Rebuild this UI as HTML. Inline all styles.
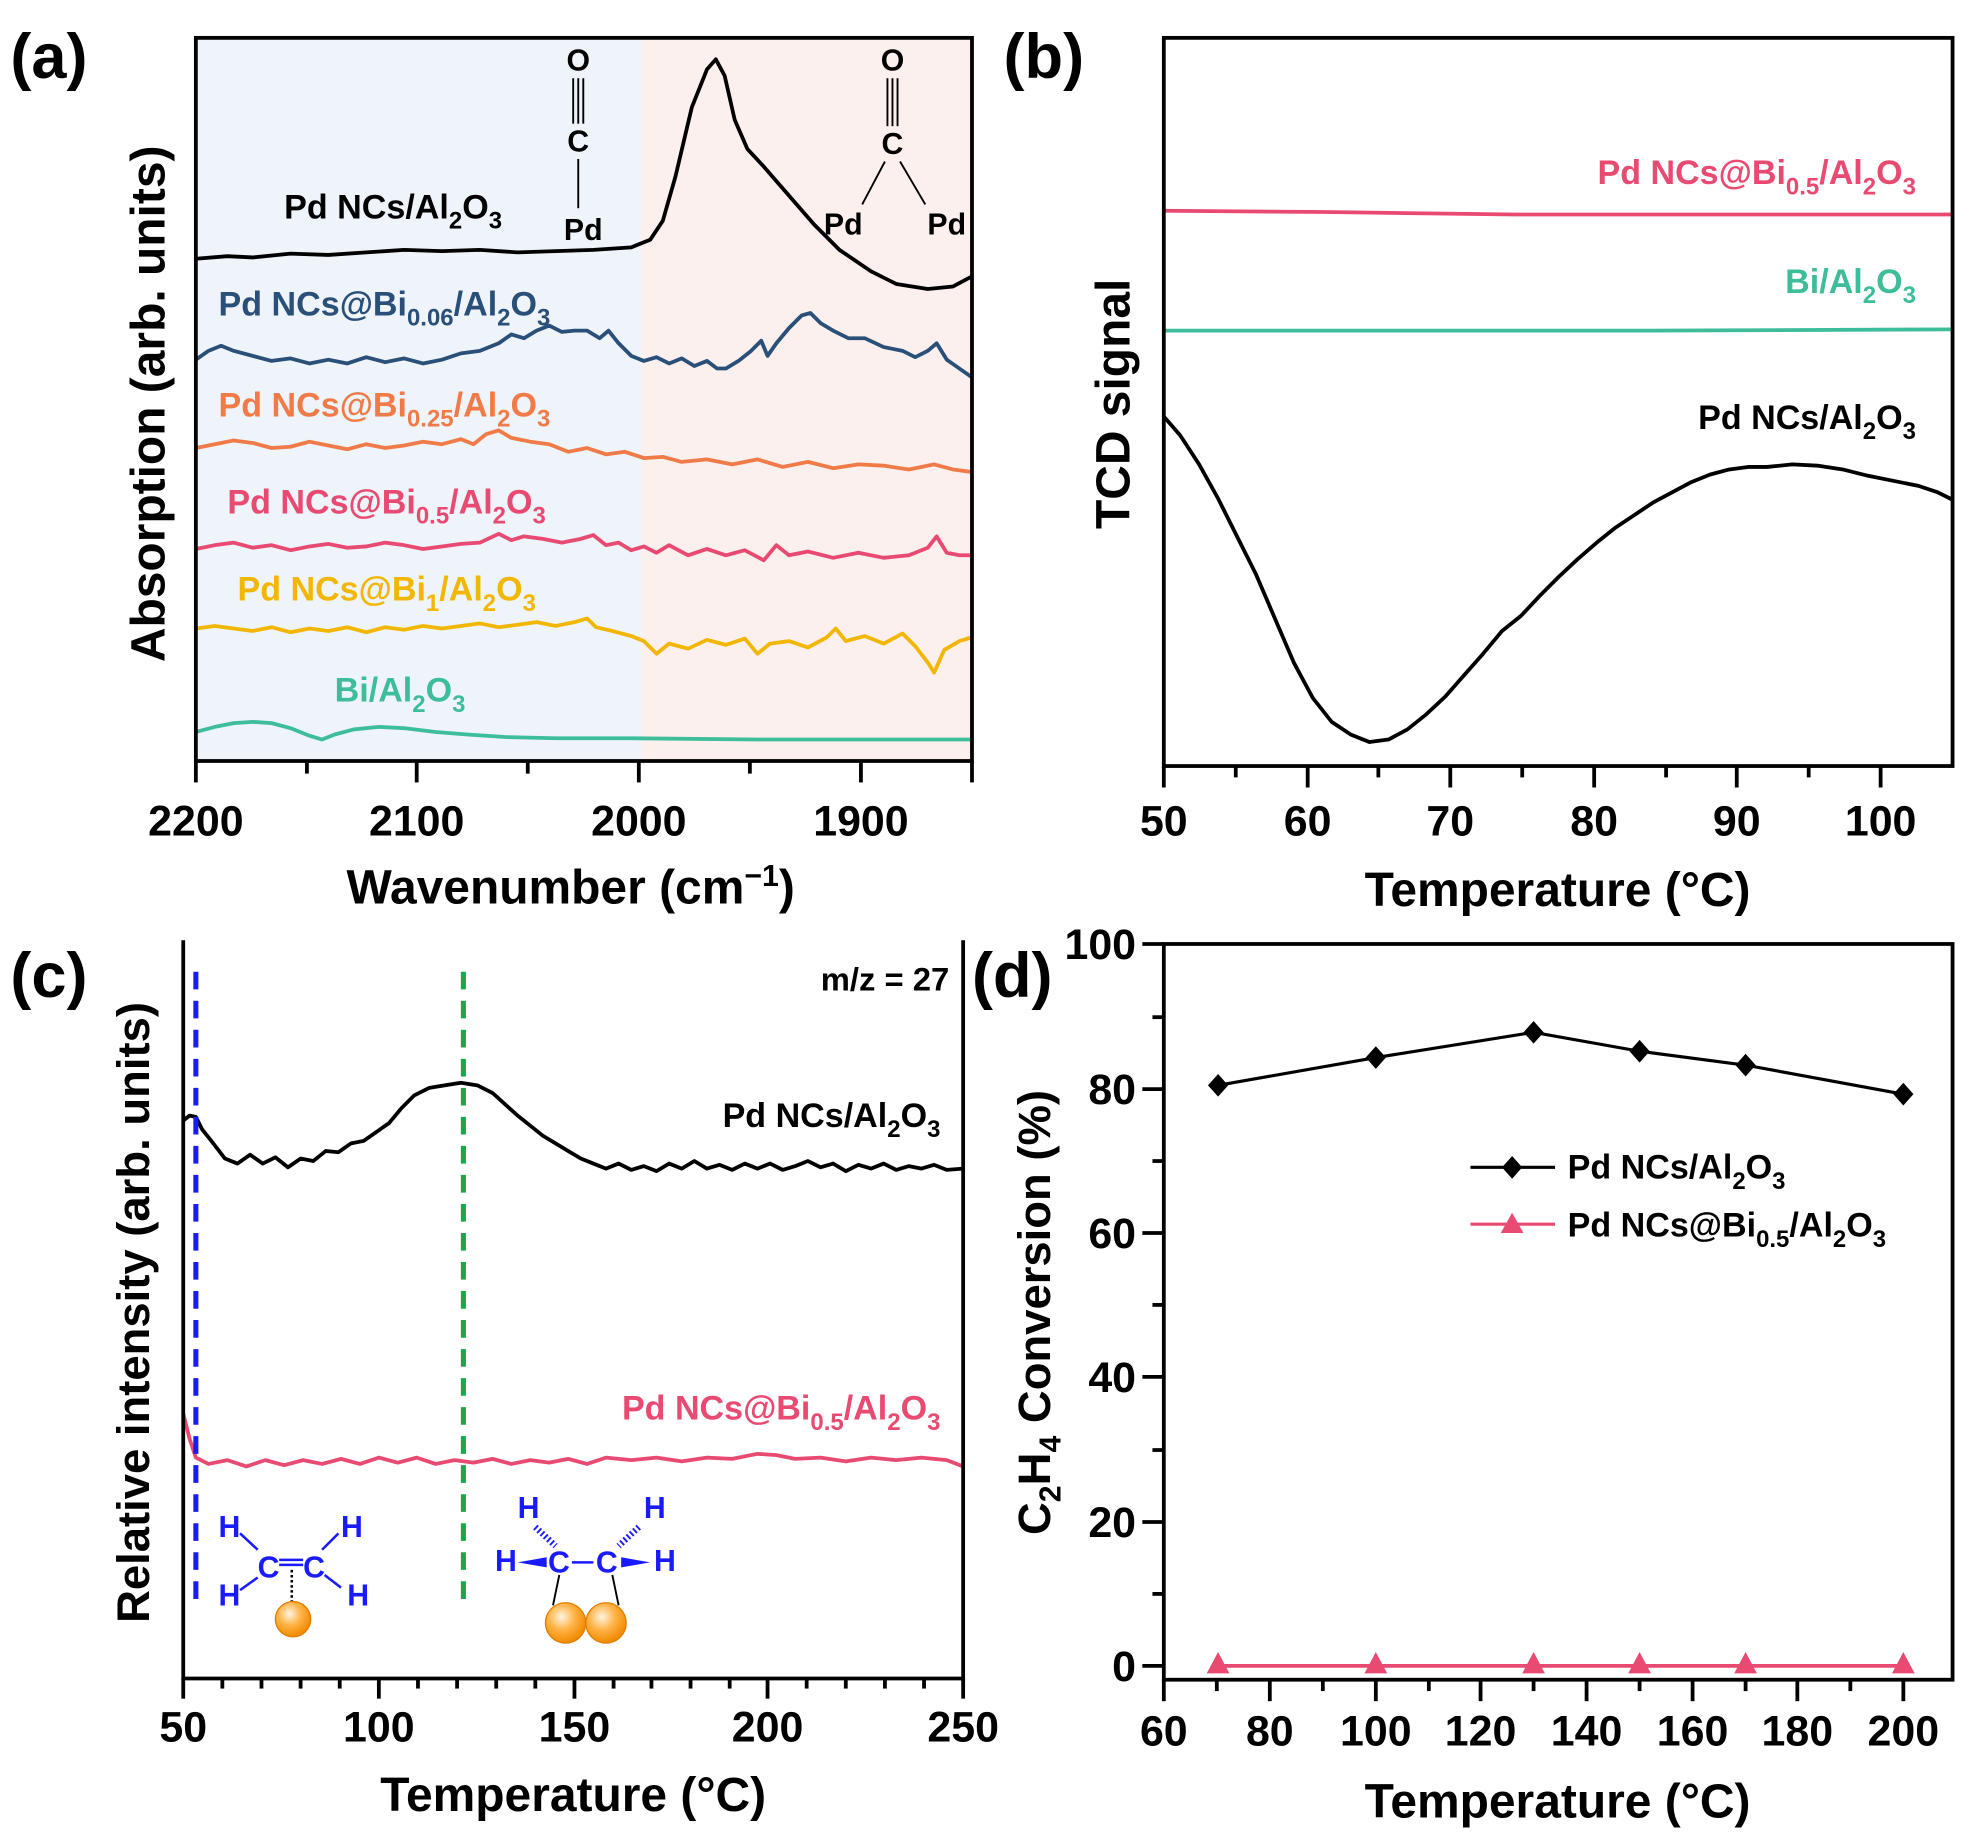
<!DOCTYPE html>
<html><head><meta charset="utf-8"><style>
html,body{margin:0;padding:0;background:#fff}
svg{display:block}
text{font-family:"Liberation Sans Narrow","Liberation Sans",sans-serif;font-weight:bold}
</style></head><body>
<svg width="1973" height="1840" viewBox="0 0 1563 1458" xmlns="http://www.w3.org/2000/svg">
<!-- ===== Panel a ===== -->
<rect x="155" y="30" width="353" height="573" fill="#eef4f9"/>
<rect x="508" y="30" width="262" height="573" fill="#fcf0ef"/>
<g fill="none" stroke-width="3" stroke-linejoin="round">
<path stroke="#000" d="M155,205 L180,203 200,204 230,201 260,202 290,200 320,198 350,199 380,198 410,200 440,199 470,198 500,196 515,190 525,175 535,140 548,85 560,55 567,47 574,60 582,95 592,118 605,132 625,155 645,178 665,198 690,215 710,225 735,229 755,227 770,219"/>
<path stroke="#2a4f78" d="M155,285 L165,278 175,274 185,278 200,282 215,286 230,284 245,288 260,285 275,288 290,283 305,287 320,284 335,288 350,285 365,280 380,278 395,272 405,265 415,268 425,262 435,258 445,263 455,262 465,262 475,268 482,262 490,272 500,282 510,286 520,283 530,288 540,284 550,290 560,286 568,292 575,292 585,286 595,278 603,270 608,282 615,272 625,260 635,250 642,248 650,256 660,262 672,268 685,268 700,275 715,278 725,283 735,278 742,272 750,285 760,292 770,299"/>
<path stroke="#f07a48" d="M155,355 L170,352 185,349 200,351 215,355 230,354 245,350 260,353 275,356 290,352 305,355 320,353 335,350 350,352 365,348 375,352 385,344 395,341 405,347 420,350 435,352 450,358 465,355 480,360 495,358 510,363 525,362 540,366 560,364 580,368 600,364 620,370 640,366 660,371 680,368 700,369 720,372 740,368 755,372 770,374"/>
<path stroke="#e84a72" d="M155,435 L170,432 185,430 200,434 215,432 230,436 245,433 260,431 275,434 290,433 305,430 320,432 335,435 350,433 365,431 380,430 395,423 405,428 415,425 430,427 445,430 460,427 470,424 480,432 490,430 500,436 510,433 520,438 530,432 545,440 560,435 575,440 590,436 605,444 615,432 625,440 640,437 660,442 680,438 700,442 720,440 735,434 742,425 750,438 760,440 770,440"/>
<path stroke="#f2b705" d="M155,498 L170,496 185,498 200,500 215,497 230,501 245,498 260,500 275,497 290,501 305,497 320,499 335,496 350,498 365,496 380,494 395,497 410,495 425,493 440,496 455,493 465,490 472,497 485,500 500,504 510,508 520,518 530,510 545,514 560,507 575,511 590,506 600,518 610,510 625,508 640,513 655,505 662,498 670,508 685,504 700,510 715,502 725,512 735,525 740,533 748,515 760,508 770,505"/>
<path stroke="#3ebd9b" d="M155,580 L170,576 185,573 200,572 215,573 230,577 245,583 255,586 265,582 280,578 300,576 320,577 345,580 370,582 400,584 440,585 500,585 600,586 700,586 770,586"/>
</g>
<rect x="155" y="30" width="615" height="573" fill="none" stroke="#000" stroke-width="3"/>
<g stroke="#000" stroke-width="3">
<line x1="155" y1="603" x2="155" y2="620"/><line x1="330" y1="603" x2="330" y2="620"/><line x1="506" y1="603" x2="506" y2="620"/><line x1="682" y1="603" x2="682" y2="620"/><line x1="770" y1="603" x2="770" y2="620"/>
<line x1="243" y1="603" x2="243" y2="613"/><line x1="418" y1="603" x2="418" y2="613"/><line x1="594" y1="603" x2="594" y2="613"/>
</g>
<g font-size="34" text-anchor="middle">
<text x="155" y="662">2200</text><text x="330" y="662">2100</text><text x="506" y="662">2000</text><text x="682" y="662">1900</text>
</g>
<text x="452" y="716" font-size="38" text-anchor="middle">Wavenumber (cm<tspan dy="-14" font-size="24">−1</tspan><tspan dy="14">)</tspan></text>
<text transform="translate(130,320) rotate(-90)" font-size="38" text-anchor="middle">Absorption (arb. units)</text>
<text x="8" y="62" font-size="50">(a)</text>
<!-- CO structures -->
<g font-size="24" font-family="Liberation Sans" text-anchor="middle">
<text x="458" y="56">O</text><text x="458" y="120">C</text><text x="462" y="190">Pd</text>
<text x="707" y="56">O</text><text x="707" y="122">C</text><text x="668" y="186">Pd</text><text x="750" y="186">Pd</text>
</g>
<g stroke="#000" stroke-width="1.5">
<line x1="454" y1="62" x2="454" y2="98"/><line x1="458" y1="62" x2="458" y2="98"/><line x1="462" y1="62" x2="462" y2="98"/>
<line x1="458" y1="126" x2="458" y2="165"/>
<line x1="703" y1="62" x2="703" y2="100"/><line x1="707" y1="62" x2="707" y2="100"/><line x1="711" y1="62" x2="711" y2="100"/>
<line x1="701" y1="128" x2="683" y2="162"/><line x1="713" y1="128" x2="733" y2="162"/>
</g>
<g font-size="27">
<text x="225" y="173" fill="#000">Pd NCs/Al<tspan dy="8" font-size="19">2</tspan><tspan dy="-8">O</tspan><tspan dy="8" font-size="19">3</tspan></text>
<text x="173" y="250" fill="#2a4f78">Pd NCs@Bi<tspan dy="8" font-size="19">0.06</tspan><tspan dy="-8">/Al</tspan><tspan dy="8" font-size="19">2</tspan><tspan dy="-8">O</tspan><tspan dy="8" font-size="19">3</tspan></text>
<text x="173" y="330" fill="#f07a48">Pd NCs@Bi<tspan dy="8" font-size="19">0.25</tspan><tspan dy="-8">/Al</tspan><tspan dy="8" font-size="19">2</tspan><tspan dy="-8">O</tspan><tspan dy="8" font-size="19">3</tspan></text>
<text x="180" y="407" fill="#e84a72">Pd NCs@Bi<tspan dy="8" font-size="19">0.5</tspan><tspan dy="-8">/Al</tspan><tspan dy="8" font-size="19">2</tspan><tspan dy="-8">O</tspan><tspan dy="8" font-size="19">3</tspan></text>
<text x="188" y="476" fill="#f2b705">Pd NCs@Bi<tspan dy="8" font-size="19">1</tspan><tspan dy="-8">/Al</tspan><tspan dy="8" font-size="19">2</tspan><tspan dy="-8">O</tspan><tspan dy="8" font-size="19">3</tspan></text>
<text x="265" y="556" fill="#3ebd9b">Bi/Al<tspan dy="8" font-size="19">2</tspan><tspan dy="-8">O</tspan><tspan dy="8" font-size="19">3</tspan></text>
</g>

<!-- ===== Panel b ===== -->
<g fill="none" stroke-width="3" stroke-linejoin="round">
<path stroke="#e84a72" d="M922,167 L1050,168 1200,170 1350,170 1547,170"/>
<path stroke="#3ebd9b" d="M922,262 L1100,262 1300,262 1547,261"/>
<path stroke="#000" d="M922,330 L935,345 950,368 965,395 980,425 995,455 1010,490 1025,525 1040,553 1055,572 1070,582 1085,588 1100,586 1115,578 1130,566 1145,552 1160,535 1175,518 1190,500 1205,488 1220,472 1235,457 1250,443 1265,430 1280,418 1295,408 1310,398 1325,390 1340,382 1355,376 1370,372 1385,370 1400,370 1420,368 1440,369 1460,372 1480,377 1500,381 1520,385 1535,390 1547,396"/>
</g>
<rect x="922" y="30" width="625" height="577" fill="none" stroke="#000" stroke-width="3"/>
<g stroke="#000" stroke-width="3">
<line x1="922" y1="607" x2="922" y2="624"/><line x1="1036" y1="607" x2="1036" y2="624"/><line x1="1149" y1="607" x2="1149" y2="624"/><line x1="1263" y1="607" x2="1263" y2="624"/><line x1="1376" y1="607" x2="1376" y2="624"/><line x1="1490" y1="607" x2="1490" y2="624"/>
<line x1="979" y1="607" x2="979" y2="616"/><line x1="1092" y1="607" x2="1092" y2="616"/><line x1="1206" y1="607" x2="1206" y2="616"/><line x1="1320" y1="607" x2="1320" y2="616"/><line x1="1433" y1="607" x2="1433" y2="616"/>
</g>
<g font-size="34" text-anchor="middle">
<text x="922" y="662">50</text><text x="1036" y="662">60</text><text x="1149" y="662">70</text><text x="1263" y="662">80</text><text x="1376" y="662">90</text><text x="1490" y="662">100</text>
</g>
<text x="1234" y="718" font-size="38" text-anchor="middle">Temperature (°C)</text>
<text transform="translate(895,320) rotate(-90)" font-size="38" text-anchor="middle">TCD signal</text>
<text x="795" y="62" font-size="50">(b)</text>
<g font-size="27" text-anchor="end">
<text x="1518" y="146" fill="#e84a72">Pd NCs@Bi<tspan dy="8" font-size="19">0.5</tspan><tspan dy="-8">/Al</tspan><tspan dy="8" font-size="19">2</tspan><tspan dy="-8">O</tspan><tspan dy="8" font-size="19">3</tspan></text>
<text x="1518" y="232" fill="#3ebd9b">Bi/Al<tspan dy="8" font-size="19">2</tspan><tspan dy="-8">O</tspan><tspan dy="8" font-size="19">3</tspan></text>
<text x="1518" y="340" fill="#000">Pd NCs/Al<tspan dy="8" font-size="19">2</tspan><tspan dy="-8">O</tspan><tspan dy="8" font-size="19">3</tspan></text>
</g>

<!-- ===== Panel c ===== -->
<g fill="none" stroke-width="3" stroke-linejoin="round">
<path stroke="#000" d="M145,888 L150,884 155,885 160,895 168,905 178,918 188,922 198,915 208,922 218,917 228,925 238,918 248,920 258,912 268,913 278,906 288,904 298,897 308,890 318,878 328,868 340,862 352,860 365,858 378,860 390,866 400,875 410,884 420,892 430,900 440,906 450,912 460,918 470,922 480,926 490,922 500,927 510,924 520,928 530,922 540,926 550,920 560,926 570,923 580,927 590,922 600,926 610,922 620,927 630,924 640,920 650,925 660,922 670,928 680,923 690,926 700,922 710,927 720,924 730,926 740,923 750,927 763,926"/>
<path stroke="#e84a72" d="M145,1120 L150,1140 155,1155 165,1160 180,1157 195,1162 210,1157 225,1161 240,1157 255,1160 270,1156 285,1160 300,1155 315,1159 330,1155 345,1160 360,1157 375,1159 390,1156 405,1160 420,1157 435,1159 450,1156 465,1160 480,1155 500,1157 520,1155 540,1158 560,1155 580,1156 600,1152 615,1153 630,1156 650,1155 670,1158 690,1155 710,1157 730,1155 750,1157 763,1162"/>
</g>
<line x1="155" y1="770" x2="155" y2="1275" stroke="#1a1aff" stroke-width="4" stroke-dasharray="14,9"/>
<line x1="367" y1="770" x2="367" y2="1275" stroke="#1aa64a" stroke-width="4" stroke-dasharray="14,9"/>
<polyline points="145,745 145,1330 763,1330 763,745" fill="none" stroke="#000" stroke-width="3"/>
<g stroke="#000" stroke-width="3">
<line x1="145" y1="1330" x2="145" y2="1346"/><line x1="300" y1="1330" x2="300" y2="1346"/><line x1="455" y1="1330" x2="455" y2="1346"/><line x1="608" y1="1330" x2="608" y2="1346"/><line x1="763" y1="1330" x2="763" y2="1346"/>
<line x1="176" y1="1330" x2="176" y2="1338"/><line x1="207" y1="1330" x2="207" y2="1338"/><line x1="238" y1="1330" x2="238" y2="1338"/><line x1="269" y1="1330" x2="269" y2="1338"/>
<line x1="331" y1="1330" x2="331" y2="1338"/><line x1="362" y1="1330" x2="362" y2="1338"/><line x1="393" y1="1330" x2="393" y2="1338"/><line x1="424" y1="1330" x2="424" y2="1338"/>
<line x1="486" y1="1330" x2="486" y2="1338"/><line x1="516" y1="1330" x2="516" y2="1338"/><line x1="547" y1="1330" x2="547" y2="1338"/><line x1="578" y1="1330" x2="578" y2="1338"/>
<line x1="639" y1="1330" x2="639" y2="1338"/><line x1="670" y1="1330" x2="670" y2="1338"/><line x1="701" y1="1330" x2="701" y2="1338"/><line x1="732" y1="1330" x2="732" y2="1338"/>
</g>
<g font-size="34" text-anchor="middle">
<text x="145" y="1380">50</text><text x="300" y="1380">100</text><text x="455" y="1380">150</text><text x="608" y="1380">200</text><text x="763" y="1380">250</text>
</g>
<text x="454" y="1435" font-size="38" text-anchor="middle">Temperature (°C)</text>
<text transform="translate(118,1040) rotate(-90)" font-size="36" text-anchor="middle">Relative intensity (arb. units)</text>
<text x="8" y="790" font-size="50">(c)</text>
<text x="752" y="785" font-size="26" text-anchor="end">m/z = 27</text>
<g font-size="27" text-anchor="end">
<text x="745" y="893" fill="#000">Pd NCs/Al<tspan dy="8" font-size="19">2</tspan><tspan dy="-8">O</tspan><tspan dy="8" font-size="19">3</tspan></text>
<text x="745" y="1125" fill="#e84a72">Pd NCs@Bi<tspan dy="8" font-size="19">0.5</tspan><tspan dy="-8">/Al</tspan><tspan dy="8" font-size="19">2</tspan><tspan dy="-8">O</tspan><tspan dy="8" font-size="19">3</tspan></text>
</g>
<defs>
<radialGradient id="ball" cx="0.4" cy="0.35" r="0.65"><stop offset="0" stop-color="#fff4e0"/><stop offset="0.5" stop-color="#ffb347"/><stop offset="1" stop-color="#f08a00"/></radialGradient>
</defs>
<g font-family="Liberation Sans" font-weight="normal" font-size="24" fill="#1a1aff">
<text x="173" y="1218" font-weight="normal">H</text><text x="270" y="1218" font-weight="normal">H</text>
<text x="173" y="1272" font-weight="normal">H</text><text x="275" y="1272" font-weight="normal">H</text>
<text x="204" y="1250" font-weight="normal">C</text><text x="240" y="1250" font-weight="normal">C</text>
<text x="410" y="1203" font-weight="normal">H</text><text x="510" y="1203" font-weight="normal">H</text>
<text x="392" y="1245" font-weight="normal">H</text><text x="518" y="1245" font-weight="normal">H</text>
<text x="434" y="1246" font-weight="normal">C</text><text x="472" y="1246" font-weight="normal">C</text>
</g>
<g stroke="#1a1aff" stroke-width="2">
<line x1="190" y1="1215" x2="204" y2="1228"/><line x1="190" y1="1260" x2="204" y2="1250"/>
<line x1="255" y1="1228" x2="268" y2="1215"/><line x1="257" y1="1248" x2="270" y2="1258"/>
<line x1="221" y1="1236" x2="240" y2="1236"/><line x1="221" y1="1240" x2="240" y2="1240"/>
<line x1="453" y1="1238" x2="470" y2="1238"/>
</g>
<polygon points="410,1238 433,1234 433,1242" fill="#1a1aff"/>
<polygon points="515,1238 492,1234 492,1242" fill="#1a1aff"/>
<line x1="424" y1="1210" x2="440" y2="1225" stroke="#1a1aff" stroke-width="5" stroke-dasharray="1.5,2"/>
<line x1="506" y1="1210" x2="490" y2="1225" stroke="#1a1aff" stroke-width="5" stroke-dasharray="1.5,2"/>
<line x1="231" y1="1244" x2="231" y2="1270" stroke="#000" stroke-width="2" stroke-dasharray="2,2"/>
<line x1="443" y1="1248" x2="438" y2="1272" stroke="#000" stroke-width="1.5"/>
<line x1="485" y1="1248" x2="490" y2="1272" stroke="#000" stroke-width="1.5"/>
<circle cx="232" cy="1283" r="14" fill="url(#ball)" stroke="#e07c00" stroke-width="1"/>
<circle cx="448" cy="1286" r="16" fill="url(#ball)" stroke="#e07c00" stroke-width="1"/>
<circle cx="480" cy="1286" r="16" fill="url(#ball)" stroke="#e07c00" stroke-width="1"/>

<!-- ===== Panel d ===== -->
<rect x="922" y="748" width="625" height="583" fill="none" stroke="#000" stroke-width="3"/>
<g stroke="#000" stroke-width="3">
<line x1="922" y1="1331" x2="922" y2="1348"/><line x1="1006" y1="1331" x2="1006" y2="1348"/><line x1="1090" y1="1331" x2="1090" y2="1348"/><line x1="1173" y1="1331" x2="1173" y2="1348"/><line x1="1257" y1="1331" x2="1257" y2="1348"/><line x1="1341" y1="1331" x2="1341" y2="1348"/><line x1="1424" y1="1331" x2="1424" y2="1348"/><line x1="1508" y1="1331" x2="1508" y2="1348"/>
<line x1="964" y1="1331" x2="964" y2="1340"/><line x1="1048" y1="1331" x2="1048" y2="1340"/><line x1="1132" y1="1331" x2="1132" y2="1340"/><line x1="1215" y1="1331" x2="1215" y2="1340"/><line x1="1299" y1="1331" x2="1299" y2="1340"/><line x1="1383" y1="1331" x2="1383" y2="1340"/><line x1="1466" y1="1331" x2="1466" y2="1340"/>
<line x1="905" y1="748" x2="922" y2="748"/><line x1="905" y1="863" x2="922" y2="863"/><line x1="905" y1="977" x2="922" y2="977"/><line x1="905" y1="1091" x2="922" y2="1091"/><line x1="905" y1="1206" x2="922" y2="1206"/><line x1="905" y1="1320" x2="922" y2="1320"/>
<line x1="913" y1="806" x2="922" y2="806"/><line x1="913" y1="920" x2="922" y2="920"/><line x1="913" y1="1034" x2="922" y2="1034"/><line x1="913" y1="1149" x2="922" y2="1149"/><line x1="913" y1="1263" x2="922" y2="1263"/>
</g>
<g font-size="34" text-anchor="middle">
<text x="922" y="1383">60</text><text x="1006" y="1383">80</text><text x="1090" y="1383">100</text><text x="1173" y="1383">120</text><text x="1257" y="1383">140</text><text x="1341" y="1383">160</text><text x="1424" y="1383">180</text><text x="1508" y="1383">200</text>
</g>
<g font-size="34" text-anchor="end">
<text x="900" y="760">100</text><text x="900" y="875">80</text><text x="900" y="989">60</text><text x="900" y="1103">40</text><text x="900" y="1218">20</text><text x="900" y="1332">0</text>
</g>
<text x="1234" y="1440" font-size="38" text-anchor="middle">Temperature (°C)</text>
<text transform="translate(832,1040) rotate(-90)" font-size="36" text-anchor="middle">C<tspan dy="8" font-size="24">2</tspan><tspan dy="-8">H</tspan><tspan dy="8" font-size="24">4</tspan><tspan dy="-8"> Conversion (%)</tspan></text>
<text x="770" y="790" font-size="50">(d)</text>
<polyline points="965,860 1090,838 1215,818 1299,833 1383,844 1508,867" fill="none" stroke="#000" stroke-width="2.5"/>
<g fill="#000">
<polygon points="965,851 973,860 965,869 957,860"/><polygon points="1090,829 1098,838 1090,847 1082,838"/><polygon points="1215,809 1223,818 1215,827 1207,818"/><polygon points="1299,824 1307,833 1299,842 1291,833"/><polygon points="1383,835 1391,844 1383,853 1375,844"/><polygon points="1508,858 1516,867 1508,876 1500,867"/>
</g>
<line x1="965" y1="1320" x2="1508" y2="1320" stroke="#e84a72" stroke-width="3"/>
<g fill="#e84a72">
<polygon points="965,1309 974,1326 956,1326"/><polygon points="1090,1309 1099,1326 1081,1326"/><polygon points="1215,1309 1224,1326 1206,1326"/><polygon points="1299,1309 1308,1326 1290,1326"/><polygon points="1383,1309 1392,1326 1374,1326"/><polygon points="1508,1309 1517,1326 1499,1326"/>
</g>
<line x1="1165" y1="925" x2="1232" y2="925" stroke="#000" stroke-width="2.5"/>
<polygon points="1198,916 1206,925 1198,934 1190,925" fill="#000"/>
<line x1="1165" y1="970" x2="1232" y2="970" stroke="#e84a72" stroke-width="2.5"/>
<polygon points="1198,961 1207,977 1189,977" fill="#e84a72"/>
<g font-size="27">
<text x="1242" y="934">Pd NCs/Al<tspan dy="8" font-size="19">2</tspan><tspan dy="-8">O</tspan><tspan dy="8" font-size="19">3</tspan></text>
<text x="1242" y="980">Pd NCs@Bi<tspan dy="8" font-size="19">0.5</tspan><tspan dy="-8">/Al</tspan><tspan dy="8" font-size="19">2</tspan><tspan dy="-8">O</tspan><tspan dy="8" font-size="19">3</tspan></text>
</g>
</svg>
</body></html>
